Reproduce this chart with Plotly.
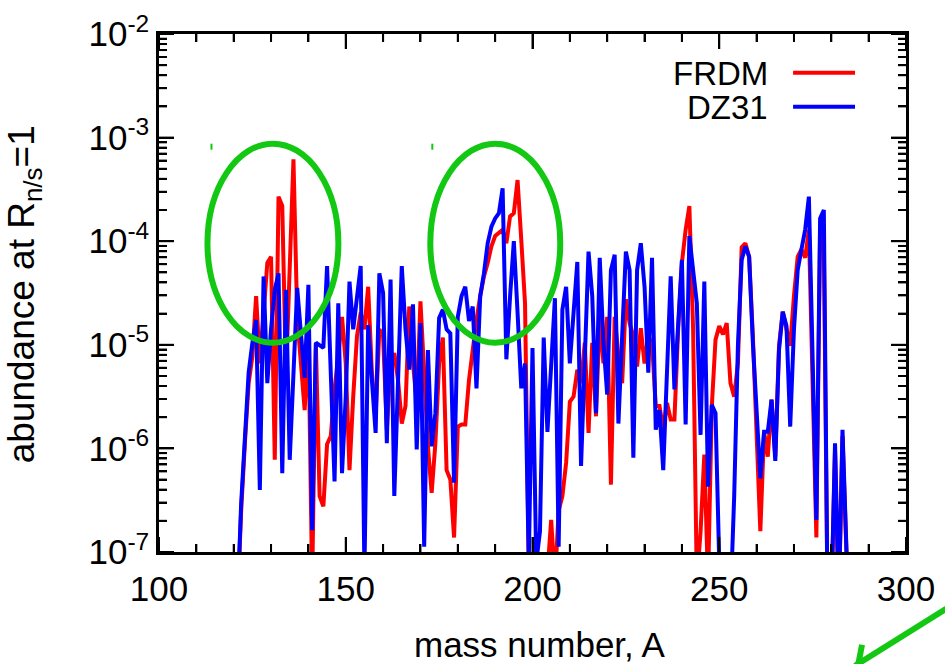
import math
import plotly.graph_objects as go

# ---------------- data ----------------
mass_number = list(range(118, 286))

# log10(abundance) for FRDM (red)
frdm_log10 = [
    -8, -8, -8, -7.5, -6.6, -5.95, -5.37, -5.11, -4.53, -5.18,      # 118-127
    -4.73, -4.21, -4.15, -6.11, -3.57, -3.66, -5.3, -4.3, -3.21, -4.73,  # 128-137
    -5.18, -5.63, -4.89, -7.3, -5.0, -6.46, -6.56, -5.96, -5.88, -5.43,  # 138-147
    -5.11, -4.73, -5.18, -6.21, -5.50, -4.92, -4.69, -4.85, -4.44, -5.27,  # 148-157
    -5.69, -4.85, -4.92, -5.82, -5.18, -5.08, -5.34, -5.76, -5.59, -4.63,  # 158-167
    -5.18, -5.56, -4.58, -5.37, -5.98, -6.43, -5.95, -5.18, -4.93, -6.21,  # 168-177
    -6.30, -6.86, -5.79, -5.77, -5.77, -5.34, -5.01, -4.76, -4.53, -4.34,  # 178-187
    -4.21, -4.05, -3.95, -3.92, -3.89, -4.02, -3.76, -3.73, -3.41, -3.99,  # 188-197
    -4.60, -7.1, -7.5, -7.5, -7.3, -7.5, -7.2, -6.69, -7.3, -6.6,        # 198-207
    -6.46, -6.14, -5.55, -5.50, -5.24, -5.37, -4.98, -5.85, -4.98, -5.69,  # 208-217
    -4.73, -5.18, -4.73, -6.35, -4.73, -5.11, -5.37, -4.56, -4.79, -4.92,  # 218-227
    -5.21, -4.84, -5.18, -4.92, -4.98, -5.59, -5.59, -5.82, -5.56, -5.72,  # 228-237
    -5.72, -4.85, -4.21, -3.89, -3.66, -4.85, -7.3, -6.8, -6.06, -7.3,    # 238-247
    -5.6, -4.95, -4.82, -4.90, -4.79, -5.37, -5.50, -5.18, -4.06, -4.02,  # 248-257
    -4.15, -4.92, -5.82, -6.80, -5.84, -6.08, -5.53, -6.08, -5.01, -4.68,  # 258-267
    -4.85, -5.01, -4.53, -4.15, -4.08, -4.16, -3.89, -5.50, -6.86, -3.89,  # 268-277
    -4.05, -7.5, -7.5, -6.01, -7.5, -5.88, -7.5, -8,                    # 278-285
]

# log10(abundance) for DZ31 (blue)
dz31_log10 = [
    -8, -8, -8, -7.5, -6.53, -5.90, -5.27, -4.98, -4.76, -6.40,         # 118-127
    -4.34, -5.37, -4.85, -4.47, -4.31, -6.24, -4.47, -6.11, -5.37, -4.45,  # 128-137
    -4.89, -5.32, -4.42, -6.79, -4.98, -5.01, -5.03, -4.24, -5.37, -6.32,  # 138-147
    -4.60, -6.24, -5.50, -4.39, -4.85, -4.53, -4.24, -7.2, -4.81, -5.34,  # 148-157
    -5.85, -4.31, -4.50, -5.95, -4.37, -6.46, -5.34, -4.24, -4.85, -5.24,  # 158-167
    -4.61, -6.01, -4.79, -6.95, -5.05, -5.98, -5.66, -4.74, -4.66, -4.85,  # 168-177
    -4.89, -6.33, -4.73, -4.53, -4.44, -4.77, -4.63, -5.42, -4.53, -4.31,  # 178-187
    -4.02, -3.86, -3.78, -3.73, -3.49, -5.14, -4.53, -4.00, -4.69, -5.42,  # 188-197
    -5.18, -7.1, -5.03, -7.1, -6.8, -4.93, -5.84, -5.18, -4.55, -6.95,    # 198-207
    -4.66, -4.44, -5.18, -4.69, -4.20, -6.17, -5.11, -4.10, -4.53, -5.66,  # 208-217
    -4.16, -4.98, -5.48, -4.28, -4.13, -5.76, -4.92, -4.10, -4.28, -6.09,  # 218-227
    -4.28, -4.02, -4.44, -5.27, -4.16, -5.82, -5.63, -6.21, -5.27, -4.34,  # 228-237
    -5.43, -4.79, -4.18, -5.77, -3.95, -4.28, -4.60, -5.87, -4.39, -6.37,  # 238-247
    -5.58, -5.66, -7.1, -7.5, -8, -7.5, -6.46, -5.01, -4.18, -4.05,      # 248-257
    -4.15, -4.98, -5.69, -6.29, -5.84, -5.84, -5.53, -6.12, -5.05, -4.68,  # 258-267
    -4.82, -5.79, -4.85, -4.28, -4.08, -3.89, -3.57, -5.18, -6.69, -3.78,  # 268-277
    -3.70, -7.5, -7.5, -5.95, -7.5, -5.82, -7.5, -8,                    # 278-285
]

series_names = ["FRDM", "DZ31"]
series_colors = ["#ff0000", "#0000ff"]

x_tick_values = [100, 150, 200, 250, 300]
x_minor_step = 10
y_tick_values = [1e-7, 1e-6, 1e-5, 1e-4, 1e-3, 1e-2]
y_tick_labels = ["10<sup>-7</sup>", "10<sup>-6</sup>", "10<sup>-5</sup>",
                 "10<sup>-4</sup>", "10<sup>-3</sup>", "10<sup>-2</sup>"]

x_title = "mass number, A"
y_title = "abundance at R<sub>n/s</sub>=1"

# ---------------- figure ----------------
W, H = 945, 664
L, R, T, B = 158.5, 906.0, 34.3, 552.3   # plot frame in pixels
PW, PH = R - L, B - T


def px(x):
    return (x - L) / PW


def py(y):
    return (B - y) / PH


FONT = "Liberation Sans, Arial, sans-serif"
GREEN = "rgb(18,200,18)"
MAJ, MIN = 15, 8   # tick lengths in px

fig = go.Figure()
for name, col, logs in [(series_names[0], series_colors[0], frdm_log10),
                        (series_names[1], series_colors[1], dz31_log10)]:
    fig.add_trace(go.Scatter(
        x=mass_number, y=[10 ** v for v in logs], mode="lines", name=name,
        line=dict(color=col, width=4), showlegend=False))

fig.update_xaxes(
    range=[100, 300], tickvals=x_tick_values,
    showline=True, linecolor="black", linewidth=2.5, mirror="allticks",
    ticks="inside", ticklen=MAJ, tickwidth=2, tickcolor="black",
    minor=dict(dtick=x_minor_step, ticks="inside", ticklen=MIN, tickwidth=2, tickcolor="black"),
    showgrid=False, zeroline=False, ticklabelstandoff=4,
    tickfont=dict(family=FONT, size=35, color="black"))
fig.update_yaxes(
    type="log", range=[-7, -2], tickvals=y_tick_values, ticktext=y_tick_labels,
    showline=True, linecolor="black", linewidth=2.5, mirror="allticks",
    ticks="inside", ticklen=MAJ, tickwidth=2, tickcolor="black",
    minor=dict(dtick="D1", ticks="inside", ticklen=MIN, tickwidth=2, tickcolor="black"),
    showgrid=False, zeroline=False,
    tickfont=dict(family=FONT, size=35, color="black"))

annotations = [
    dict(text=x_title, x=px(540), y=py(645), xref="paper", yref="paper",
         showarrow=False, xanchor="center", yanchor="middle",
         font=dict(family=FONT, size=35, color="black")),
    dict(text=y_title, x=px(23), y=py(295), xref="paper", yref="paper",
         showarrow=False, xanchor="center", yanchor="middle", textangle=-90,
         font=dict(family=FONT, size=37, color="black")),
    dict(text=series_names[0], x=px(770), y=py(74), xref="paper", yref="paper",
         showarrow=False, xanchor="right", yanchor="middle",
         font=dict(family=FONT, size=33, color="black")),
    dict(text=series_names[1], x=px(770), y=py(108), xref="paper", yref="paper",
         showarrow=False, xanchor="right", yanchor="middle",
         font=dict(family=FONT, size=33, color="black")),
]

tick_line = dict(color="black", width=2)
shapes = []
# frame ticks (inside, on all four sides), placed through the x axis and paper fractions
x_lo, x_hi = x_tick_values[0], x_tick_values[-1]
for xv in range(x_lo, x_hi + 1, x_minor_step):
    ln = MAJ if xv in x_tick_values else MIN
    for base, sign in [(0, 1), (1, -1)]:
        shapes.append(dict(type="line", xref="x", yref="paper", x0=xv, x1=xv,
                           y0=base, y1=base + sign * ln / PH, line=tick_line))
lmin, lmax = math.log10(y_tick_values[0]), math.log10(y_tick_values[-1])
for dec in y_tick_values:
    for k in range(1, 10):
        v = dec * k
        if v > y_tick_values[-1] * 1.0001:
            break
        f = (math.log10(v) - lmin) / (lmax - lmin)
        ln = MAJ if k == 1 else MIN
        for base, sign in [(0, 1), (1, -1)]:
            shapes.append(dict(type="line", xref="paper", yref="paper", x0=base,
                               x1=base + sign * ln / PW, y0=f, y1=f, line=tick_line))

shapes += [
    # legend line samples
    dict(type="line", xref="paper", yref="paper", x0=px(793), x1=px(855), y0=py(73), y1=py(73),
         line=dict(color=series_colors[0], width=4)),
    dict(type="line", xref="paper", yref="paper", x0=px(793), x1=px(855), y0=py(107), y1=py(107),
         line=dict(color=series_colors[1], width=4)),
    # green ellipses
    dict(type="circle", xref="paper", yref="paper", x0=px(207), x1=px(338), y0=py(343), y1=py(144),
         line=dict(color=GREEN, width=6)),
    dict(type="circle", xref="paper", yref="paper", x0=px(430), x1=px(560), y0=py(343), y1=py(144),
         line=dict(color=GREEN, width=6)),
    # small green marks
    dict(type="line", xref="paper", yref="paper", x0=px(211), x1=px(211), y0=py(144), y1=py(150),
         line=dict(color=GREEN, width=2)),
    dict(type="line", xref="paper", yref="paper", x0=px(432), x1=px(432), y0=py(144), y1=py(150),
         line=dict(color=GREEN, width=2)),
    # green arrow (cut at the corner)
    dict(type="line", xref="paper", yref="paper", x0=px(948), x1=px(855), y0=py(608), y1=py(666),
         line=dict(color=GREEN, width=6)),
    dict(type="line", xref="paper", yref="paper", x0=px(862), x1=px(858), y0=py(645), y1=py(666),
         line=dict(color=GREEN, width=6)),
]

fig.update_layout(
    width=W, height=H,
    margin=dict(l=L, r=W - R, t=T, b=H - B, autoexpand=False),
    paper_bgcolor="white", plot_bgcolor="white",
    annotations=annotations, shapes=shapes,
    showlegend=False,
)

fig.write_html("out.html")
